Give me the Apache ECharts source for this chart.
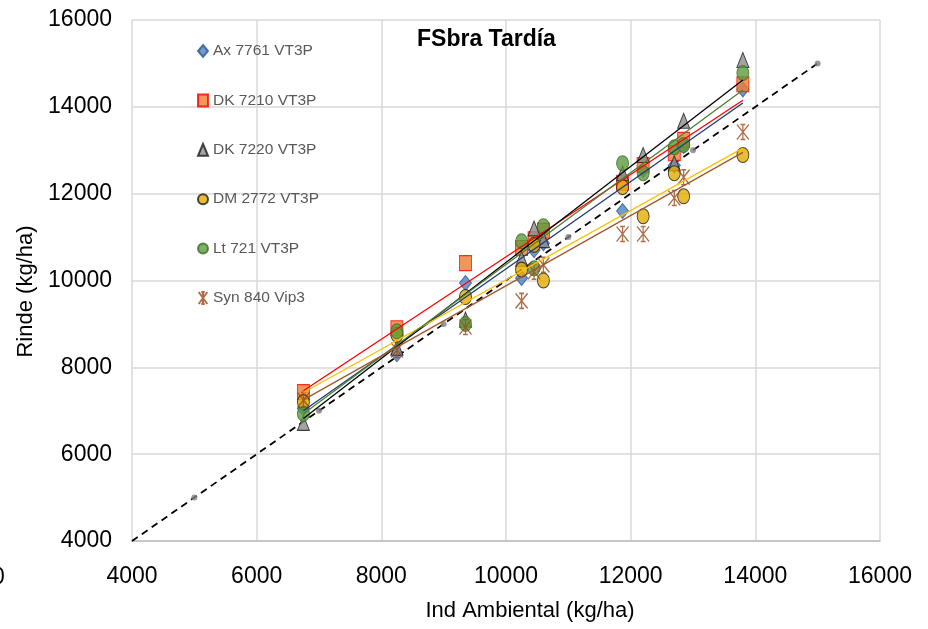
<!DOCTYPE html>
<html>
<head>
<meta charset="utf-8">
<script src="https://cdn.jsdelivr.net/npm/echarts@6/dist/echarts.min.js"></script>
<style>html,body{margin:0;padding:0;background:#fff}#c{width:928px;height:629px}</style>
</head>
<body>
<div id="c"></div>
<script>
// Environment index (x) values
const envX = [6750, 8250, 9350, 10250, 10450, 10600, 11870, 12200, 12700, 12850, 13800];
// Yields per hybrid
const ax7761 = [7050, 8300, 9940, 10060, 10700, 10860, 11600, 12550, 12650, 13100, 14400];
const dk7210 = [7430, 8900, 10400, 10750, 10950, 11150, 12250, 12660, 12930, 13240, 14520];
const dk7220 = [6720, 8450, 9100, 10500, 11200, 10930, 12470, 12890, 12700, 13680, 15080];
const dm2772 = [7200, 8750, 9620, 10250, 10820, 10000, 12150, 11480, 12470, 11940, 12890];
const lt721  = [6930, 8830, 9000, 10900, 10280, 11250, 12700, 12470, 13070, 13120, 14780];
const syn840 = [7250, 8400, 8930, 9530, 10200, 10360, 11070, 11070, 11900, 12380, 13420];
// Trend line endpoints (at first and last environment)
const trendX = [6750, 13800];
const trendAx = [7000, 14090];
const trend7210 = [7460, 14150];
const trend7220 = [6820, 14620];
const trendDM = [7420, 13050];
const trendLt = [6930, 14390];
const trendSyn = [7250, 12950];
// 1:1 line and its markers
const oneToOne = [4000, 15000];
const oneToOneDots = [5000, 7000, 9000, 11000, 13000, 15000];
const seriesNames = ['Ax 7761 VT3P', 'DK 7210 VT3P', 'DK 7220 VT3P', 'DM 2772 VT3P', 'Lt 721 VT3P', 'Syn 840 Vip3'];

const FONT = "'Liberation Sans', Arial, sans-serif";
const pts = arr => envX.map((x, i) => [x, arr[i]]);
const tl = arr => trendX.map((x, i) => [x, arr[i]]);
const star = 'path://M0,0L10,14M10,0L0,14M5,0L5,14M3,0L7,0M3,14L7,14';

const styles = [
  {symbol: 'diamond', fill: '#4F81BD', border: '#2F5597', line: '#1F3B73', data: ax7761, trend: trendAx},
  {symbol: 'rect', fill: '#ED7D31', border: '#FF0000', line: '#FF0000', data: dk7210, trend: trend7210},
  {symbol: 'triangle', fill: '#8C8C8C', border: '#1A1A1A', line: '#000000', data: dk7220, trend: trend7220},
  {symbol: 'circle', fill: '#E2AC00', border: '#1A1A1A', line: '#FFC000', data: dm2772, trend: trendDM},
  {symbol: 'circle', fill: '#5B9A3C', border: '#3E6B28', line: '#4E7E36', data: lt721, trend: trendLt},
  {symbol: star, fill: 'transparent', border: '#9C4A1A', line: '#A0582C', data: syn840, trend: trendSyn}
];

const series = [];
series.push({
  type: 'line', data: oneToOne.map(v => [v, v]), symbol: 'none', silent: true,
  lineStyle: {color: '#000', width: 1.8, type: [7, 5]}, z: 2
});
series.push({
  type: 'scatter', data: oneToOneDots.map(v => [v, v]), symbol: 'circle', symbolSize: 6,
  itemStyle: {color: '#7F7F7F'}, silent: true, z: 3
});
styles.forEach((s, i) => {
  series.push({
    name: seriesNames[i], type: 'scatter', data: pts(s.data), symbol: s.symbol,
    symbolSize: [12, 15],
    itemStyle: {color: s.fill, borderColor: s.border, borderWidth: s.symbol === star ? 1.4 : 1},
    z: 4
  });
});
styles.forEach((s, i) => {
  series.push({
    type: 'line', data: tl(s.trend), symbol: 'none', silent: true,
    lineStyle: {color: s.line, width: 1.3}, z: 5
  });
});

const chart = echarts.init(document.getElementById('c'));
chart.setOption({
  animation: false,
  backgroundColor: '#fff',
  title: {
    text: 'FSbra Tardía', left: 412, top: 23,
    textStyle: {fontFamily: FONT, fontSize: 23, fontWeight: 'bold', color: '#000'}
  },
  legend: {
    orient: 'vertical', left: 192, top: 36, data: seriesNames,
    itemWidth: 10, itemHeight: 12, itemGap: 29.4,
    textStyle: {fontFamily: FONT, fontSize: 15.5, color: '#595959', lineHeight: 20}
  },
  grid: {left: 132, right: 48, top: 20, bottom: 88, containLabel: false, outerBoundsMode: 'none'},
  xAxis: {
    type: 'value', min: 4000, max: 16000, interval: 2000,
    name: 'Ind Ambiental (kg/ha)', nameLocation: 'middle', nameGap: 59,
    nameTextStyle: {fontFamily: FONT, fontSize: 22, color: '#000', padding: [0, 0, 0, 48]},
    axisLine: {show: true, lineStyle: {color: '#BFBFBF', width: 1.5}},
    axisTick: {show: false},
    axisLabel: {fontFamily: FONT, fontSize: 23, color: '#000', margin: 24, formatter: v => String(v)},
    splitLine: {show: true, lineStyle: {color: '#D9D9D9', width: 1.5}}
  },
  yAxis: {
    type: 'value', min: 4000, max: 16000, interval: 2000,
    name: 'Rinde (kg/ha)', nameLocation: 'middle', nameGap: 81, nameRotate: 90,
    nameTextStyle: {fontFamily: FONT, fontSize: 22, color: '#000', padding: [0, 22, 0, 0]},
    axisLine: {show: false},
    axisTick: {show: false},
    axisLabel: {fontFamily: FONT, fontSize: 23, color: '#000', margin: 20, formatter: v => String(v)},
    splitLine: {show: true, lineStyle: {color: '#D9D9D9', width: 1.5}}
  },
  graphic: [{
    type: 'text', left: -8, top: 566,
    style: {text: '0', font: "23px " + FONT, fill: '#000'}
  }],
  series: series
});
</script>
</body>
</html>
